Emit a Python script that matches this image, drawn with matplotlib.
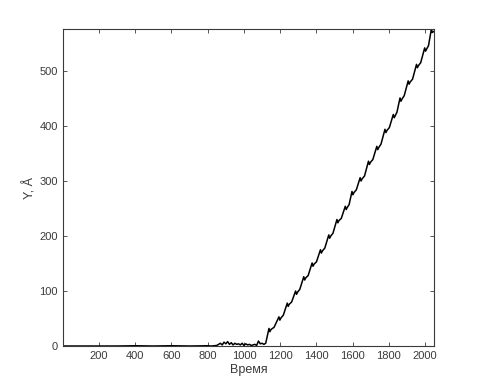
import matplotlib
matplotlib.use("Agg")
import matplotlib.pyplot as plt

# time / signal
time = [1, 100, 200, 300, 400, 500, 600, 700, 800, 820, 850, 860, 870, 880,
        890, 900, 910, 920, 930, 940, 950, 960, 970, 980, 990, 1000, 1010,
        1020, 1030, 1040, 1050, 1060, 1070, 1080, 1090, 1100, 1110, 1120,
        1138, 1143, 1149, 1166,
        1193, 1198, 1204, 1217,
        1239, 1244, 1250, 1263,
        1285, 1290, 1296, 1308,
        1330, 1335, 1341, 1354,
        1376, 1381, 1387, 1400,
        1422, 1427, 1433, 1446,
        1468, 1473, 1479, 1491,
        1513, 1518, 1524, 1537,
        1559, 1564, 1570, 1580,
        1596, 1601, 1607, 1620,
        1641, 1646, 1652, 1665,
        1687, 1692, 1698, 1711,
        1733, 1738, 1744, 1756,
        1778, 1783, 1789, 1802,
        1824, 1829, 1835, 1844,
        1861, 1866, 1872, 1884,
        1906, 1911, 1917, 1930,
        1952, 1957, 1963, 1975,
        1997, 2002, 2008, 2018,
        2034, 2039, 2048]
signal = [0, 0, 0, 0, 0.5, 0, 0.5, 0, 0.5, 0, 1, 3, 5, 2, 7, 4, 8, 3, 6, 2,
          5, 3, 4, 2, 5, 1, 4, 2, 3, 1, 2, 3, 1, 9, 4, 5, 3, 5,
          32, 26, 30, 34,
          53, 47, 51, 56,
          78, 72, 76, 80,
          100, 94, 98, 103,
          126, 120, 124, 128,
          151, 145, 149, 153,
          175, 169, 173, 178,
          202, 196, 200, 205,
          230, 224, 228, 232,
          254, 248, 252, 257,
          281, 275, 279, 284,
          306, 300, 304, 309,
          336, 330, 334, 339,
          363, 357, 361, 367,
          394, 388, 392, 397,
          421, 415, 419, 425,
          451, 445, 449, 455,
          482, 476, 480, 485,
          512, 506, 510, 515,
          542, 536, 540, 546,
          576, 570, 572]

xticks = [200, 400, 600, 800, 1000, 1200, 1400, 1600, 1800, 2000]
yticks = [0, 100, 200, 300, 400, 500]

plt.rcParams['font.family'] = ['Liberation Sans', 'DejaVu Sans']
AX_COLOR = "#3a3a3a"

fig = plt.figure(figsize=(4.8, 3.89), dpi=100)
ax = fig.add_axes([0.131, 0.1105, 0.773, 0.8145])
ax.plot(time, signal, color="black", linewidth=1.1)

ax.set_xlim(1, 2048)
ax.set_ylim(0, 576)
ax.set_xticks(xticks)
ax.set_yticks(yticks)
ax.tick_params(direction="in", top=True, right=True, length=3,
               labelsize=8, colors=AX_COLOR, width=0.6)
for s in ax.spines.values():
    s.set_color(AX_COLOR)
    s.set_linewidth(0.8)
ax.set_xlabel("Время", fontsize=9, color=AX_COLOR, labelpad=2)
ax.set_ylabel("Y, Å", fontsize=9, color=AX_COLOR, labelpad=2)

plt.savefig("out.png")
plt.close()
